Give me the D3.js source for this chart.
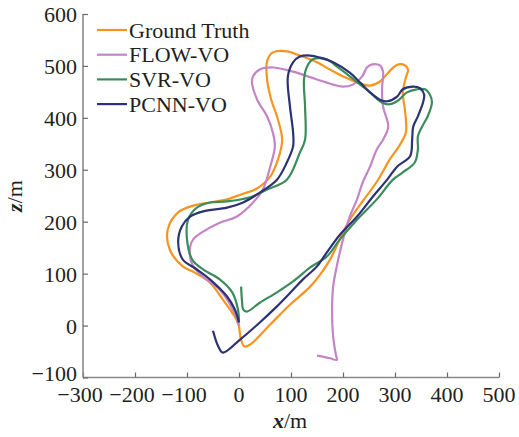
<!DOCTYPE html>
<html>
<head>
<meta charset="utf-8">
<script src="https://cdn.jsdelivr.net/npm/d3@7"></script>
<style>
  body { margin:0; background:#fff; }
  text { font-family:"Liberation Serif","Times New Roman",serif; fill:#231f20; }
</style>
</head>
<body>
<div id="chart"></div>
<script>
// trajectories, [x, z] in metres
let groundTruth = [[0,0],[4,-27],[10,-40],[21,-37],[60,2],[98,40],[137,75],[156,98],[175,127],[194,166],[213,204],[233,233],[265,277],[290,320],[310,349],[321,372],[319,416],[315,449],[321,478],[325,493],[315,503],[302,501],[287,487],[271,470],[252,462],[233,466],[204,478],[175,493],[150,507],[117,520],[92,528],[65,526],[54,509],[54,474],[62,435],[73,403],[83,358],[75,320],[60,287],[31,262],[8,254],[-23,243],[-56,237],[-88,231],[-117,218],[-137,185],[-133,146],[-108,114],[-85,102],[-56,83],[-31,50],[-8,17],[0,0]]

let flowVO = [[0,0],[-12,31],[-37,69],[-69,94],[-90,118],[-94,152],[-88,166],[-69,181],[-37,198],[-4,210],[27,237],[46,262],[60,306],[69,345],[65,372],[54,403],[35,435],[25,468],[27,480],[40,493],[65,497],[104,489],[150,474],[181,464],[200,460],[219,464],[237,480],[246,497],[256,503],[271,501],[277,489],[275,455],[277,422],[287,383],[277,358],[265,339],[252,306],[238,276],[227,243],[213,210],[200,166],[188,114],[181,75],[179,25],[181,-21],[186,-55],[188,-66],[175,-63],[150,-58]]

let svrVO = [[4,75],[6,45],[8,31],[15,27],[40,44],[73,64],[104,85],[137,112],[169,133],[194,166],[227,204],[265,243],[296,281],[315,295],[338,314],[344,339],[344,364],[352,383],[363,403],[371,430],[367,445],[358,455],[342,455],[323,449],[304,432],[287,426],[271,432],[252,449],[233,464],[213,480],[188,499],[169,513],[142,513],[131,499],[125,474],[127,422],[127,358],[117,333],[92,281],[54,262],[21,247],[-23,239],[-56,237],[-81,227],[-98,204],[-100,166],[-90,127],[-69,108],[-37,89],[-13,64],[-2,31],[0,6]]

let pcnnVO = [[-50,-10],[-40,-40],[-31,-52],[2,-27],[40,6],[73,37],[104,69],[123,89],[150,114],[169,141],[194,175],[227,210],[258,249],[285,281],[304,306],[329,326],[333,358],[335,383],[344,403],[354,430],[356,445],[348,457],[335,460],[315,455],[304,441],[285,432],[271,435],[252,449],[233,468],[213,487],[181,507],[156,516],[137,520],[117,518],[104,507],[94,480],[98,422],[104,372],[104,345],[92,314],[73,281],[40,256],[8,237],[-23,227],[-69,220],[-94,210],[-110,191],[-117,160],[-108,127],[-81,108],[-56,89],[-23,56],[-8,31],[0,6]]

let seriesNames = ['Ground Truth','FLOW-VO','SVR-VO','PCNN-VO']
let seriesColors = ['#f7941d','#c384c8','#3b8c5c','#2c3272']
let xTicks = [-300,-200,-100,0,100,200,300,400,500]
let zTicks = [-100,0,100,200,300,400,500,600]

let width = 519, height = 437
let svg = d3.select("#chart").append("svg").attr("width",width).attr("height",height)

let xScale = d3.scaleLinear().domain([-300,500]).range([83,499])
let yScale = d3.scaleLinear().domain([-100,600]).range([377.5,14])

let line = d3.line()
  .x(d => xScale(d[0]))
  .y(d => yScale(d[1]))
  .curve(d3.curveCatmullRom.alpha(0.5))

// axes, ticks pointing inward
let xAxis = d3.axisTop(xScale).tickValues(xTicks).tickSize(5).tickFormat("")
let yAxis = d3.axisRight(yScale).tickValues(zTicks).tickSize(5).tickFormat("")
let xg = svg.append("g").attr("transform",`translate(0,${yScale(-100)})`).call(xAxis)
let yg = svg.append("g").attr("transform",`translate(${xScale(-300)},0)`).call(yAxis)
svg.selectAll(".domain").attr("stroke","#8a8a8a").attr("stroke-width",1.6)
svg.selectAll(".tick line").attr("stroke","#6a6a6a").attr("stroke-width",1.2)
xg.select(".domain").attr("d",`M${xScale(-300)},0H${xScale(500)}`)
yg.select(".domain").attr("d",`M0,${yScale(-100)}V${yScale(600)}`)

let fmt = v => v < 0 ? "\u2212" + Math.abs(v) : String(v)
svg.append("g").selectAll("text").data(xTicks).enter().append("text")
  .attr("x",d => xScale(d) + (d < 0 ? -3 : 0))
  .attr("y",402)
  .attr("text-anchor","middle")
  .attr("font-size",22)
  .text(fmt)
// the lowest z label sits a bit higher so it clears the x labels
svg.append("g").selectAll("text").data(zTicks).enter().append("text")
  .attr("x",77)
  .attr("y",d => d == -100 ? yScale(d) + 3.5 : yScale(d) + 8)
  .attr("text-anchor","end")
  .attr("font-size",22)
  .text(fmt)

let xl = svg.append("text").attr("x",290).attr("y",428).attr("text-anchor","middle").attr("font-size",22)
xl.append("tspan").attr("font-weight","bold").attr("font-style","italic").text("x")
xl.append("tspan").text("/m")
let yl = svg.append("text").attr("transform","translate(22,196) rotate(-90)").attr("text-anchor","middle").attr("font-size",22)
yl.append("tspan").attr("font-weight","bold").attr("font-style","italic").text("z")
yl.append("tspan").text("/m")

// trajectories
let allSeries = [groundTruth, flowVO, svrVO, pcnnVO]
svg.append("g").selectAll("path").data(allSeries).enter().append("path")
  .attr("d",d => line(d))
  .attr("fill","none")
  .attr("stroke",(d,i) => seriesColors[i])
  .attr("stroke-width",2.2)
  .attr("stroke-linejoin","round")

// legend
let legend = svg.append("g")
let rows = legend.selectAll("g").data(seriesNames).enter().append("g")
  .attr("transform",(d,i) => `translate(97,${30 + i*24.7})`)
rows.append("line").attr("x1",0).attr("x2",30).attr("y1",0).attr("y2",0)
  .attr("stroke",(d,i) => seriesColors[i]).attr("stroke-width",2.2)
rows.append("text").attr("x",32).attr("y",7.5).attr("font-size",22).text(d => d)
</script>
</body>
</html>
